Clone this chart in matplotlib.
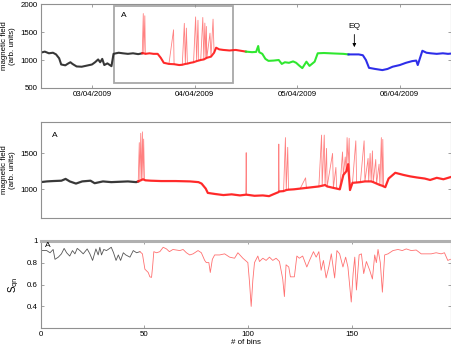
import matplotlib
matplotlib.use('Agg')
import matplotlib.pyplot as plt
from matplotlib.patches import Rectangle
import numpy as np

plt.rcParams['font.family'] = ['Liberation Sans', 'DejaVu Sans']
plt.rcParams['font.size'] = 5.7

# top panel: 4 days of magnetic field, x in days from 02/04/2009 12:00
day_black = [0.00, 0.04, 0.08, 0.12, 0.15, 0.18, 0.20, 0.24, 0.27, 0.29, 0.31, 0.35, 0.40, 0.45,
             0.50, 0.53, 0.56, 0.58, 0.60, 0.62, 0.65, 0.69, 0.71, 0.76, 0.80, 0.85, 0.90, 0.95, 0.99]
field_black = [1130, 1150, 1120, 1130, 1100, 1030, 920, 905, 940, 960, 930, 885, 880, 900,
               920, 960, 1010, 960, 1020, 910, 940, 890, 1110, 1130, 1120, 1110, 1120, 1105, 1120]
day_red = [0.99, 1.00, 1.005, 1.015, 1.02, 1.06, 1.10, 1.14, 1.17, 1.20, 1.25, 1.295, 1.30, 1.35,
           1.38, 1.40, 1.41, 1.42, 1.43, 1.46, 1.49, 1.51, 1.52, 1.533, 1.54, 1.56, 1.58, 1.59,
           1.60, 1.61, 1.615, 1.62, 1.65, 1.66, 1.68, 1.69, 1.71, 1.74, 1.78, 1.84, 1.90, 1.95, 2.00]
field_red = [1120, 1830, 1120, 1790, 1110, 1120, 1110, 1110, 1040, 950, 930, 1540, 925, 910,
             915, 1655, 930, 1570, 935, 950, 960, 1770, 980, 1710, 990, 1000, 1760, 1010,
             1660, 1030, 1600, 1040, 1480, 1060, 1730, 1130, 1220, 1190, 1180, 1170, 1180, 1165, 1150]
day_green = [2.00, 2.06, 2.10, 2.12, 2.13, 2.16, 2.19, 2.22, 2.27, 2.32, 2.35, 2.38, 2.42, 2.46,
             2.49, 2.52, 2.55, 2.59, 2.62, 2.67, 2.70, 2.76, 2.82, 2.88, 2.95, 3.00]
field_green = [1150, 1140, 1145, 1250, 1140, 1110, 1020, 985, 990, 1000, 930, 960, 950, 975,
               950, 900, 855, 970, 895, 970, 1120, 1125, 1120, 1115, 1110, 1100]
day_blue = [3.00, 3.06, 3.10, 3.14, 3.17, 3.20, 3.26, 3.33, 3.38, 3.43, 3.50, 3.56, 3.62, 3.66,
            3.675, 3.72, 3.76, 3.80, 3.86, 3.92, 3.97, 4.00]
field_blue = [1100, 1100, 1100, 1085, 1000, 860, 840, 820, 840, 880, 910, 950, 980, 990,
              910, 1165, 1130, 1120, 1110, 1120, 1110, 1115]
date_ticks = [0.5, 1.5, 2.5, 3.5]
date_labels = ['03/04/2009', '04/04/2009', '05/04/2009', '06/04/2009']
eq_day = 3.057

# middle panel: zoom on box A, x in bins
bin_black = [0, 3, 6, 10, 12, 14, 17, 20, 24, 26, 30, 34, 38, 42, 46, 47]
zoom_black = [1100, 1110, 1115, 1120, 1145, 1110, 1080, 1110, 1120, 1085, 1110, 1100, 1105, 1110, 1100, 1110]
bin_red = [47, 47.5, 47.8, 48.2, 48.6, 49, 49.3, 49.6, 50, 50.5, 53, 58, 65, 72, 76, 77.5, 79.5, 80.5, 84, 88, 92, 96,
           98.8, 99, 99.2, 103, 107, 110, 112, 114.5, 114.7, 114.9, 117, 117.9, 118.3, 119, 119.4,
           122, 125, 127.6, 128, 131, 134, 135.3, 135.6, 136.6, 137, 137.7, 138, 140.6, 141, 142.2,
           142.6, 144.1, 145.4, 145.8, 146.7, 147.2, 147.6, 148.1, 148.6, 149, 150.2, 151.8, 152.2,
           154, 155.8, 156.2, 157.7, 158, 158.7, 159.2, 159.8, 160.2, 161.4, 161.8, 163, 163.4,
           164.1, 164.5, 164.8, 165.2, 166, 167.6, 170.8, 174.8, 178, 181.2, 185, 187.6, 190.8, 194, 198]
zoom_red = [1110, 1650, 1120, 1780, 1130, 1800, 1140, 1700, 1130, 1125, 1120, 1115, 1115, 1110, 1100, 1080, 1010, 950, 935, 920, 930, 915,
            925, 1510, 925, 910, 915, 905, 930, 960, 1630, 970, 975, 1720, 990, 1585, 995,
            1000, 1010, 1160, 1020, 1030, 1040, 1755, 1050, 1755, 1060, 1570, 1040, 1500, 1020, 1305,
            1010, 1000, 1520, 1200, 1450, 1250, 1720, 1350, 1710, 990, 1090, 1675, 1095,
            1100, 1675, 1110, 1430, 1110, 1500, 1110, 1535, 1100, 1415, 1080, 1350, 1060,
            1720, 1050, 1695, 1040, 1030, 1150, 1230, 1200, 1180, 1165, 1150, 1130, 1160, 1140, 1175]

# bottom panel: S_qn per bin
sqn_bin_black = [0.5, 2.9, 4.5, 6, 6.9, 8.5, 10, 11.3, 12.5, 14, 15.3, 16.5, 17.6, 18.9, 20.5, 22.4, 23.7,
                 25, 26.6, 27.7, 28.5, 29.3, 30.4, 31.7, 34, 35.1, 36.3, 37.4, 38.5, 39.8, 41, 43, 44.6, 46.2, 47.8]
sqn_black = [0.91, 0.91, 0.89, 0.92, 0.83, 0.85, 0.88, 0.93, 0.89, 0.86, 0.91, 0.88, 0.93, 0.91, 0.88, 0.925, 0.88,
             0.82, 0.925, 0.87, 0.94, 0.87, 0.92, 0.91, 0.94, 0.89, 0.82, 0.87, 0.82, 0.89, 0.87, 0.85, 0.91, 0.89, 0.90]
sqn_bin_red = [47.8, 49, 50.2, 51.8, 52.6, 53.4, 53.9, 54.5, 55.8, 57.4, 59, 60.6, 62, 63.7, 67, 68.6, 70.2, 71.8,
               73.4, 75.8, 77.4, 79, 79.8, 81, 81.7, 82.7, 83.8, 86.2, 88.6, 91, 93.4, 95, 97.4, 99.8, 100.6,
               101.4, 102.2, 103, 104.6, 105.4, 107, 108.6, 110.2, 111.8, 113.4, 115, 116.6, 117.4, 118.2,
               119.5, 120.3, 122.2, 123.4, 124.6, 126.2, 128.2, 129.5, 131.4, 132.7, 134, 135.1, 136.2, 137.5,
               138.8, 140, 141.6, 142.7, 144, 145.6, 146.9, 148, 149.6, 150.5, 151.3, 152.1, 153.4, 154.5,
               155.6, 156.9, 158.5, 159.8, 160.9, 161.7, 162.5, 163.6, 164.6, 165.7, 167.3, 169.7, 172.1,
               174.2, 176.1, 178.5, 180.9, 183.3, 185.7, 188.1, 190.5, 192.9, 194.5, 196.1, 197.4]
sqn_red = [0.90, 0.88, 0.74, 0.71, 0.67, 0.665, 0.76, 0.90, 0.89, 0.90, 0.94, 0.925, 0.90, 0.92, 0.91, 0.92, 0.89, 0.87,
           0.88, 0.91, 0.89, 0.82, 0.80, 0.80, 0.71, 0.83, 0.87, 0.87, 0.88, 0.85, 0.84, 0.89, 0.84, 0.80, 0.62,
           0.40, 0.64, 0.80, 0.86, 0.81, 0.84, 0.82, 0.85, 0.82, 0.84, 0.81, 0.65, 0.49, 0.78,
           0.76, 0.67, 0.67, 0.86, 0.84, 0.86, 0.76, 0.82, 0.90, 0.85, 0.90, 0.73, 0.82, 0.66,
           0.76, 0.88, 0.66, 0.91, 0.88, 0.76, 0.85, 0.76, 0.44, 0.70, 0.85, 0.55, 0.87, 0.88,
           0.70, 0.81, 0.73, 0.65, 0.87, 0.80, 0.92, 0.80, 0.53, 0.87, 0.88, 0.91, 0.92,
           0.91, 0.925, 0.91, 0.915, 0.88, 0.88, 0.88, 0.89, 0.88, 0.89, 0.82, 0.83]

BLACK = '#2a2a2a'
RED = '#ff1a1a'
GREEN = '#22e622'
BLUE = '#2020e8'
FRAME = '#909090'


def style_axes(ax):
    for sp in ax.spines.values():
        sp.set_color(FRAME)
        sp.set_linewidth(0.8)
    ax.tick_params(direction='in', length=2.5, width=0.6, color=FRAME, pad=2,
                   top=True, right=True, labelsize=5.7)


def plot_trace(ax, x, y, color, lw_base):
    # spikes drawn thin and light, the noisy baseline drawn as a thick band
    x = np.asarray(x, float)
    y = np.asarray(y, float)
    spike = np.zeros(len(y), bool)
    spike[1:-1] = (y[1:-1] > y[:-2] + 120) & (y[1:-1] > y[2:] + 120)
    ax.plot(x, y, color=color, lw=0.6, alpha=0.55)
    ax.plot(x[~spike], y[~spike], color=color, lw=lw_base, alpha=0.9, solid_joinstyle='round')


fig = plt.figure(figsize=(4.52, 3.47), dpi=100)
ax1 = fig.add_axes([0.09, 0.7464, 0.908, 0.242])
ax2 = fig.add_axes([0.09, 0.371, 0.908, 0.278])
ax3 = fig.add_axes([0.09, 0.0539, 0.908, 0.2524])

# top
plot_trace(ax1, day_black, field_black, BLACK, 1.5)
plot_trace(ax1, day_red, field_red, RED, 1.5)
plot_trace(ax1, day_green, field_green, GREEN, 1.5)
plot_trace(ax1, day_blue, field_blue, BLUE, 1.5)
ax1.add_patch(Rectangle((0.716, 590), 1.155, 1370, fill=False, ec='#a8a8a8', lw=1.3))
ax1.text(0.81, 1800, 'A', ha='center', va='center', fontsize=6)
ax1.annotate('EQ', xy=(eq_day, 1230), xytext=(eq_day, 1530), ha='center', va='bottom', fontsize=6,
             arrowprops=dict(arrowstyle='-|>', color='k', lw=0.6, mutation_scale=5, shrinkA=1, shrinkB=0))
ax1.set_xlim(0, 4)
ax1.set_ylim(500, 2000)
ax1.set_yticks([500, 1000, 1500, 2000])
ax1.set_xticks(date_ticks)
ax1.set_xticklabels(date_labels)
ax1.set_ylabel('magnetic field\n(arb. units)', fontsize=5.7, labelpad=3)
style_axes(ax1)

# middle
plot_trace(ax2, bin_black, zoom_black, BLACK, 1.6)
plot_trace(ax2, bin_red, zoom_red, RED, 1.6)
ax2.text(6.9, 1755, 'A', ha='center', va='center', fontsize=6)
ax2.set_xlim(0, 197.7)
ax2.set_ylim(597, 1940)
ax2.set_yticks([1000, 1500])
ax2.set_xticks([])
ax2.set_ylabel('magnetic field\n(arb. units)', fontsize=5.7, labelpad=3)
style_axes(ax2)

# bottom
ax3.plot(sqn_bin_black, sqn_black, color='#555555', lw=0.6)
ax3.plot(sqn_bin_red, sqn_red, color='#ff7070', lw=0.6)
ax3.text(3.2, 0.955, 'A', ha='center', va='center', fontsize=6)
ax3.set_xlim(0, 197.7)
ax3.set_ylim(0.2, 1)
ax3.set_yticks([0.4, 0.6, 0.8, 1])
ax3.set_yticklabels(['0.4', '0.6', '0.8', '1'])
ax3.set_xticks([0, 50, 100, 150])
ax3.set_xlabel('# of bins', fontsize=5.7, labelpad=1)
ax3.set_ylabel('S$_{\\rm qn}$', fontsize=7, labelpad=4)
style_axes(ax3)
ax3.spines['top'].set_linewidth(2.2)
ax3.spines['top'].set_color('#b0b0b0')

fig.savefig('out.png', dpi=100)
